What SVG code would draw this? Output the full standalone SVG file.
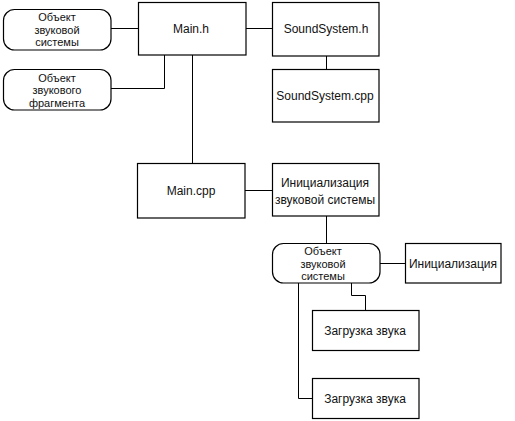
<svg xmlns="http://www.w3.org/2000/svg" width="515" height="421" viewBox="0 0 515 421">
<style>
.b{fill:#fff;stroke:#000;stroke-width:1.2}
.c{fill:none;stroke:#000;stroke-width:1}
text{font-family:"Liberation Sans",Arial,sans-serif;font-size:12px;fill:#111;text-anchor:middle}
.s{font-size:11px}
</style>
<rect width="515" height="421" fill="#fff"/>
<g id="connectors">
<path class="c" d="M111 28.5H138"/>
<path class="c" d="M111 88.5H164.5V55"/>
<path class="c" d="M246 28.5H272"/>
<path class="c" d="M326.5 56V69"/>
<path class="c" d="M192.5 55V163"/>
<path class="c" d="M245 190.5H272"/>
<path class="c" d="M326.5 216V243"/>
<path class="c" d="M380 263.5H405"/>
<path class="c" d="M351.5 283V295.5H365.5V310"/>
<path class="c" d="M298.5 283V398.5H312"/>
</g>
<g id="obj_sys1"><rect class="b" x="3.5" y="9.5" width="107.5" height="40.5" rx="11"/><text class="s" x="57" y="21">Объект</text><text class="s" x="57" y="33.7">звуковой</text><text class="s" x="57" y="46.4">системы</text></g>
<g id="obj_frag"><rect class="b" x="3.5" y="69.5" width="107.5" height="40.5" rx="11"/><text class="s" x="57" y="81.5">Объект</text><text class="s" x="57" y="94.2">звукового</text><text class="s" x="57" y="106.9">фрагмента</text></g>
<g id="main_h"><rect class="b" x="138.5" y="2.5" width="107.5" height="52.5"/><text x="191" y="33">Main.h</text></g>
<g id="sound_h"><rect class="b" x="272.5" y="2.5" width="106.5" height="53.5"/><text x="326" y="33">SoundSystem.h</text></g>
<g id="sound_cpp"><rect class="b" x="272.5" y="69.5" width="106.5" height="52.5"/><text x="325" y="100">SoundSystem.cpp</text></g>
<g id="main_cpp"><rect class="b" x="137.5" y="163.5" width="107.5" height="54.5"/><text x="191" y="195">Main.cpp</text></g>
<g id="init_sys"><rect class="b" x="272.5" y="163.5" width="106.5" height="52.5"/><text x="325" y="187">Инициализация</text><text x="325" y="204">звуковой системы</text></g>
<g id="obj_sys2"><rect class="b" x="272.5" y="243.5" width="107.5" height="39.5" rx="11"/><text class="s" x="323" y="255">Объект</text><text class="s" x="323" y="267.7">звуковой</text><text class="s" x="323" y="280.4">системы</text></g>
<g id="init"><rect class="b" x="405.5" y="243.5" width="95.5" height="39.5"/><text x="453" y="268">Инициализация</text></g>
<g id="load1"><rect class="b" x="312.5" y="310.5" width="106.5" height="40"/><text x="365" y="335">Загрузка звука</text></g>
<g id="load2"><rect class="b" x="312.5" y="378.5" width="106.5" height="40"/><text x="365" y="403">Загрузка звука</text></g>
</svg>
